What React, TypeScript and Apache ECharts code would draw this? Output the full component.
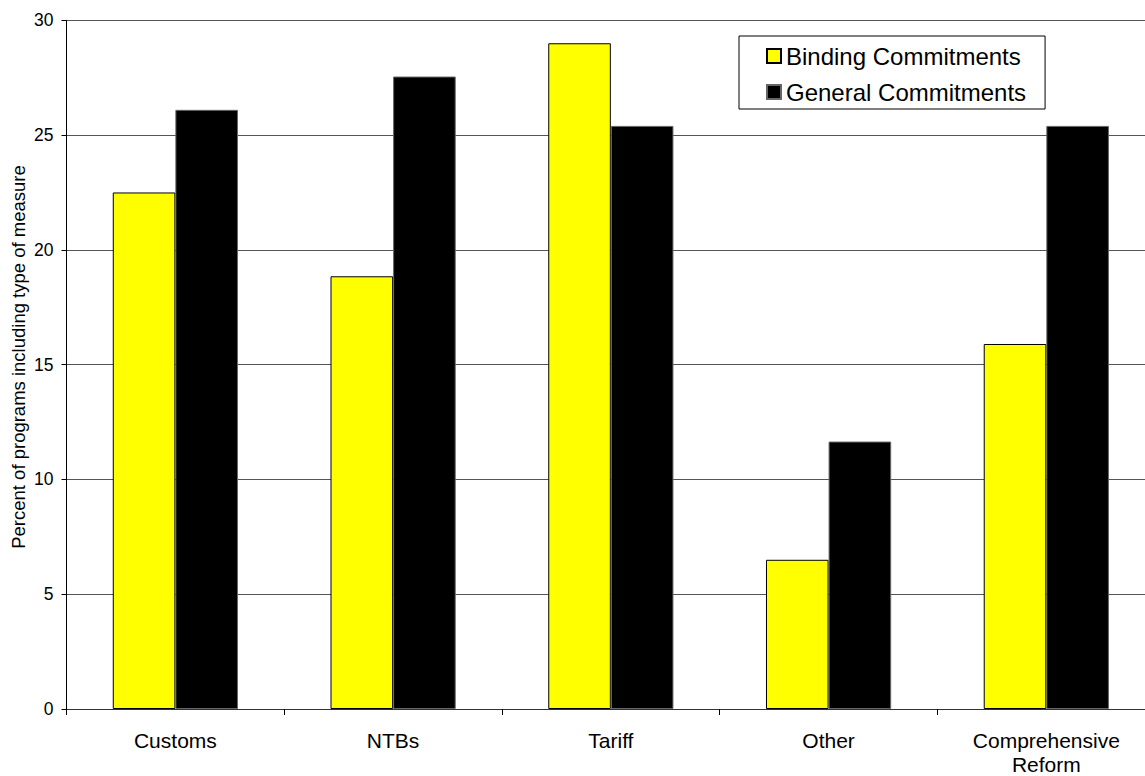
import React, { useEffect, useRef } from "react";
import * as echarts from "echarts";

const categories = ["Customs", "NTBs", "Tariff", "Other", "Comprehensive\nReform"];
const bindingCommitments = [22.5, 18.85, 29.0, 6.5, 15.9];
const generalCommitments = [26.1, 27.55, 25.4, 11.65, 25.4];
const yTicks = { min: 0, max: 30, interval: 5 };
const yAxisTitle = "Percent of programs including type of measure";

const FONT = "'Liberation Sans', Arial, Helvetica, sans-serif";

export default function App() {
  const ref = useRef<HTMLDivElement>(null);

  useEffect(() => {
    if (!ref.current) return;
    const chart = echarts.init(ref.current, null, { renderer: "svg" });
    chart.setOption({
      animation: false,
      backgroundColor: "#ffffff",
      textStyle: { fontFamily: FONT, color: "#000" },
      // the plot runs a little past the right edge of the visible page
      grid: { left: 66.5, top: 20.3, width: 1088.7, height: 693 },
      legend: {
        orient: "vertical",
        left: 739,
        top: 36,
        padding: [8, 19, 5, 27],
        itemGap: 12,
        itemWidth: 14,
        itemHeight: 14,
        icon: "rect",
        borderColor: "#000",
        borderWidth: 1,
        backgroundColor: "#fff",
        textStyle: { fontFamily: FONT, fontSize: 24, lineHeight: 24, color: "#000" },
        data: ["Binding Commitments", "General Commitments"],
      },
      xAxis: {
        type: "category",
        data: categories,
        boundaryGap: true,
        axisLine: { lineStyle: { color: "#333", width: 1 } },
        axisTick: { show: true, length: 6, inside: false, lineStyle: { color: "#000" } },
        axisLabel: {
          interval: 0,
          margin: 19,
          fontFamily: FONT,
          fontSize: 21,
          lineHeight: 24,
          color: "#000",
        },
      },
      yAxis: {
        type: "value",
        min: yTicks.min,
        max: yTicks.max,
        interval: yTicks.interval,
        axisLine: { show: true, lineStyle: { color: "#000", width: 1 } },
        axisTick: { show: true, length: 5, lineStyle: { color: "#000" } },
        axisLabel: { margin: 13, fontFamily: FONT, fontSize: 17.5, color: "#000" },
        splitLine: { show: true, lineStyle: { color: "#555", width: 1 } },
      },
      graphic: [
        {
          type: "text",
          x: 18.5,
          y: 357,
          rotation: Math.PI / 2,
          style: {
            text: yAxisTitle,
            fontFamily: FONT,
            fontSize: 18.5,
            fill: "#000",
            textAlign: "center",
            textVerticalAlign: "middle",
          },
        },
      ],
      series: [
        {
          name: "Binding Commitments",
          type: "bar",
          data: bindingCommitments,
          barWidth: 62.6,
          barGap: "0%",
          itemStyle: { color: "#ffff00", borderColor: "#000", borderWidth: 1 },
        },
        {
          name: "General Commitments",
          type: "bar",
          data: generalCommitments,
          barWidth: 62.6,
          barGap: "0%",
          itemStyle: { color: "#000000", borderColor: "#666", borderWidth: 1 },
        },
      ],
    });
    return () => chart.dispose();
  }, []);

  return (
    <div
      ref={ref}
      style={{ position: "fixed", left: 0, top: 0, width: 1160, height: 776 }}
    />
  );
}
